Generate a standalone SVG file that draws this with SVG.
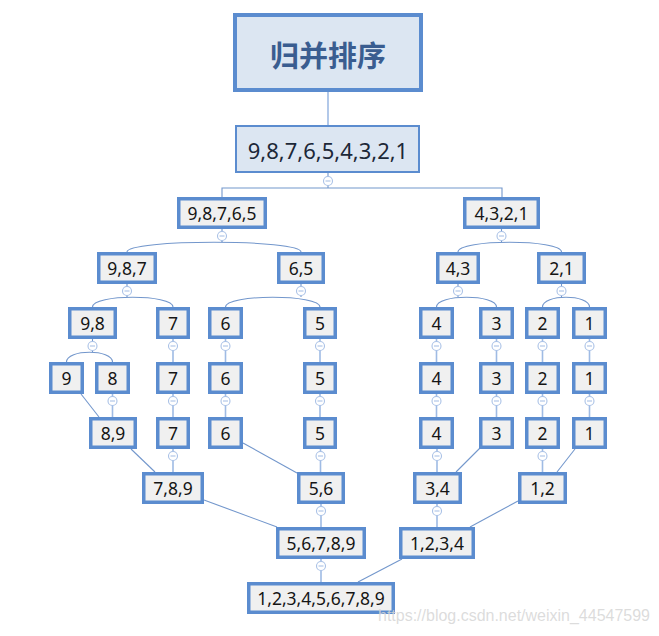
<svg xmlns="http://www.w3.org/2000/svg" width="659" height="636" viewBox="0 0 659 636">
<style>
.n rect{fill:#f0f0f0;stroke:#5b8ccf;stroke-width:3.5}
.n text{font-family:"Noto Sans","Open Sans","DejaVu Sans",sans-serif;font-size:17.5px;fill:#151515;text-anchor:middle;dominant-baseline:central}
.c{fill:none;stroke:#7397cc;stroke-width:1.1}
.v{fill:none;stroke:#9fbbe4;stroke-width:1.6}
.t circle{fill:#fff;stroke:#a9c1e6;stroke-width:1.1}
.t path{stroke:#a9c1e6;stroke-width:1.1}
</style>
<rect width="659" height="636" fill="#fff"/>
<g id="connectors">
<line class="v" x1="328" y1="92" x2="328" y2="125"/>
<path class="c" d="M328,173V188M222,197V188H502V197"/>
<path class="c" d="M222,229V243M127,252C127,239 301,239 301,252"/>
<path class="c" d="M501.5,228V243M458,252C458,239 561.5,239 561.5,252"/>
<path class="c" d="M127,284V297M92.5,307C92.5,294 173,294 173,307"/>
<path class="c" d="M301,284V297M225.5,307C225.5,294 320,294 320,307"/>
<path class="c" d="M458,284V297M436.5,307C436.5,294 496.5,294 496.5,307"/>
<path class="c" d="M561.5,284V297M542.5,307C542.5,294 589.5,294 589.5,307"/>
<path class="c" d="M92.5,339V352M66.5,362C66.5,349 112.5,349 112.5,362"/>
<path class="v" d="M173,339V362M225.5,339V362M320,339V362M436.5,339V362M496.5,339V362M542.5,339V362M589.5,339V362"/>
<path class="v" d="M112.5,394V417M173,394V417M225.5,394V417M320,394V417M436.5,394V417M496.5,394V417M542.5,394V417M589.5,394V417"/>
<line class="c" x1="81" y1="394" x2="99" y2="417"/>
<path class="v" d="M173,449V472M320.5,449V472M437,449V472M542.5,449V472"/>
<line class="c" x1="131" y1="449" x2="155" y2="472"/>
<line class="c" x1="243" y1="443" x2="297" y2="473"/>
<line class="c" x1="480" y1="448" x2="456" y2="472"/>
<line class="c" x1="575" y1="449" x2="557" y2="472"/>
<path class="v" d="M321,504V527M437,504V527M321,559V582"/>
<line class="c" x1="204" y1="500" x2="277" y2="527"/>
<line class="c" x1="518" y1="501" x2="470" y2="527"/>
<line class="c" x1="402" y1="559" x2="358" y2="582"/>
</g>
<g id="toggles" class="t">
<circle cx="328" cy="181" r="4.5"/><path d="M325.5,181H330.5"/>
<circle cx="222" cy="236" r="4.5"/><path d="M219.5,236H224.5"/>
<circle cx="501.5" cy="236" r="4.5"/><path d="M499,236H504"/>
<circle cx="127" cy="291" r="4.5"/><path d="M124.5,291H129.5"/>
<circle cx="301" cy="291" r="4.5"/><path d="M298.5,291H303.5"/>
<circle cx="458" cy="291" r="4.5"/><path d="M455.5,291H460.5"/>
<circle cx="561.5" cy="291" r="4.5"/><path d="M559,291H564"/>
<circle cx="92.5" cy="346" r="4.5"/><path d="M90,346H95"/>
<circle cx="173" cy="346" r="4.5"/><path d="M170.5,346H175.5"/>
<circle cx="225.5" cy="346" r="4.5"/><path d="M223,346H228"/>
<circle cx="320" cy="346" r="4.5"/><path d="M317.5,346H322.5"/>
<circle cx="436.5" cy="346" r="4.5"/><path d="M434,346H439"/>
<circle cx="496.5" cy="346" r="4.5"/><path d="M494,346H499"/>
<circle cx="542.5" cy="346" r="4.5"/><path d="M540,346H545"/>
<circle cx="589.5" cy="346" r="4.5"/><path d="M587,346H592"/>
<circle cx="112.5" cy="401" r="4.5"/><path d="M110,401H115"/>
<circle cx="173" cy="401" r="4.5"/><path d="M170.5,401H175.5"/>
<circle cx="225.5" cy="401" r="4.5"/><path d="M223,401H228"/>
<circle cx="320" cy="401" r="4.5"/><path d="M317.5,401H322.5"/>
<circle cx="436.5" cy="401" r="4.5"/><path d="M434,401H439"/>
<circle cx="496.5" cy="401" r="4.5"/><path d="M494,401H499"/>
<circle cx="542.5" cy="401" r="4.5"/><path d="M540,401H545"/>
<circle cx="589.5" cy="401" r="4.5"/><path d="M587,401H592"/>
<circle cx="173" cy="456" r="4.5"/><path d="M170.5,456H175.5"/>
<circle cx="320.5" cy="456" r="4.5"/><path d="M318,456H323"/>
<circle cx="437" cy="456" r="4.5"/><path d="M434.5,456H439.5"/>
<circle cx="542.5" cy="456" r="4.5"/><path d="M540,456H545"/>
<circle cx="321" cy="511" r="4.5"/><path d="M318.5,511H323.5"/>
<circle cx="437" cy="511" r="4.5"/><path d="M434.5,511H439.5"/>
<circle cx="321" cy="566" r="4.5"/><path d="M318.5,566H323.5"/>
</g>
<g id="n_title">
<rect x="235" y="15" width="186" height="75" fill="#dce6f2" stroke="#5b8ccf" stroke-width="4"/>
<text x="328" y="54" font-family="'Noto Sans CJK SC','Noto Sans',sans-serif" font-size="29" font-weight="bold" fill="#3a5d90" text-anchor="middle" dominant-baseline="central">归并排序</text>
</g>
<g id="n_root">
<rect x="236" y="126" width="183" height="46" fill="#dce6f2" stroke="#5b8ccf" stroke-width="2"/>
<text x="328" y="150" font-family="'Noto Sans','Open Sans',sans-serif" font-size="22" fill="#1c2838" text-anchor="middle" dominant-baseline="central">9,8,7,6,5,4,3,2,1</text>
</g>
<g id="n_98765" class="n"><rect x="178.75" y="198.75" width="86.5" height="28.5"/><text x="222" y="213">9,8,7,6,5</text></g>
<g id="n_4321" class="n"><rect x="464.75" y="198.75" width="73.5" height="28.5"/><text x="501.5" y="213">4,3,2,1</text></g>
<g id="n_987" class="n"><rect x="98.75" y="253.75" width="56.5" height="28.5"/><text x="127" y="268">9,8,7</text></g>
<g id="n_65" class="n"><rect x="278.75" y="253.75" width="44.5" height="28.5"/><text x="301" y="268">6,5</text></g>
<g id="n_43" class="n"><rect x="437.75" y="253.75" width="40.5" height="28.5"/><text x="458" y="268">4,3</text></g>
<g id="n_21" class="n"><rect x="538.75" y="253.75" width="45.5" height="28.5"/><text x="561.5" y="268">2,1</text></g>
<g id="n_98" class="n"><rect x="69.75" y="308.75" width="45.5" height="28.5"/><text x="92.5" y="323">9,8</text></g>
<g id="n_7a" class="n"><rect x="157.75" y="308.75" width="30.5" height="28.5"/><text x="173" y="323">7</text></g>
<g id="n_6a" class="n"><rect x="209.75" y="308.75" width="31.5" height="28.5"/><text x="225.5" y="323">6</text></g>
<g id="n_5a" class="n"><rect x="304.75" y="308.75" width="30.5" height="28.5"/><text x="320" y="323">5</text></g>
<g id="n_4a" class="n"><rect x="420.75" y="308.75" width="31.5" height="28.5"/><text x="436.5" y="323">4</text></g>
<g id="n_3a" class="n"><rect x="480.75" y="308.75" width="31.5" height="28.5"/><text x="496.5" y="323">3</text></g>
<g id="n_2a" class="n"><rect x="526.75" y="308.75" width="31.5" height="28.5"/><text x="542.5" y="323">2</text></g>
<g id="n_1a" class="n"><rect x="573.75" y="308.75" width="31.5" height="28.5"/><text x="589.5" y="323">1</text></g>
<g id="n_9" class="n"><rect x="50.75" y="363.75" width="31.5" height="28.5"/><text x="66.5" y="378">9</text></g>
<g id="n_8" class="n"><rect x="96.75" y="363.75" width="31.5" height="28.5"/><text x="112.5" y="378">8</text></g>
<g id="n_7b" class="n"><rect x="157.75" y="363.75" width="30.5" height="28.5"/><text x="173" y="378">7</text></g>
<g id="n_6b" class="n"><rect x="209.75" y="363.75" width="31.5" height="28.5"/><text x="225.5" y="378">6</text></g>
<g id="n_5b" class="n"><rect x="304.75" y="363.75" width="30.5" height="28.5"/><text x="320" y="378">5</text></g>
<g id="n_4b" class="n"><rect x="420.75" y="363.75" width="31.5" height="28.5"/><text x="436.5" y="378">4</text></g>
<g id="n_3b" class="n"><rect x="480.75" y="363.75" width="31.5" height="28.5"/><text x="496.5" y="378">3</text></g>
<g id="n_2b" class="n"><rect x="526.75" y="363.75" width="31.5" height="28.5"/><text x="542.5" y="378">2</text></g>
<g id="n_1b" class="n"><rect x="573.75" y="363.75" width="31.5" height="28.5"/><text x="589.5" y="378">1</text></g>
<g id="n_89" class="n"><rect x="90.75" y="418.75" width="44.5" height="28.5"/><text x="113" y="433">8,9</text></g>
<g id="n_7c" class="n"><rect x="157.75" y="418.75" width="30.5" height="28.5"/><text x="173" y="433">7</text></g>
<g id="n_6c" class="n"><rect x="209.75" y="418.75" width="31.5" height="28.5"/><text x="225.5" y="433">6</text></g>
<g id="n_5c" class="n"><rect x="304.75" y="418.75" width="30.5" height="28.5"/><text x="320" y="433">5</text></g>
<g id="n_4c" class="n"><rect x="420.75" y="418.75" width="31.5" height="28.5"/><text x="436.5" y="433">4</text></g>
<g id="n_3c" class="n"><rect x="480.75" y="418.75" width="31.5" height="28.5"/><text x="496.5" y="433">3</text></g>
<g id="n_2c" class="n"><rect x="526.75" y="418.75" width="31.5" height="28.5"/><text x="542.5" y="433">2</text></g>
<g id="n_1c" class="n"><rect x="573.75" y="418.75" width="31.5" height="28.5"/><text x="589.5" y="433">1</text></g>
<g id="n_789" class="n"><rect x="143.75" y="473.75" width="58.5" height="28.5"/><text x="173" y="488">7,8,9</text></g>
<g id="n_56" class="n"><rect x="298.75" y="473.75" width="44.5" height="28.5"/><text x="321" y="488">5,6</text></g>
<g id="n_34" class="n"><rect x="414.75" y="473.75" width="45.5" height="28.5"/><text x="437.5" y="488">3,4</text></g>
<g id="n_12" class="n"><rect x="519.75" y="473.75" width="45.5" height="28.5"/><text x="542.5" y="488">1,2</text></g>
<g id="n_56789" class="n"><rect x="277.75" y="528.75" width="86.5" height="28.5"/><text x="321" y="543">5,6,7,8,9</text></g>
<g id="n_1234" class="n"><rect x="400.75" y="528.75" width="72.5" height="28.5"/><text x="437" y="543">1,2,3,4</text></g>
<g id="n_all" class="n"><rect x="248.75" y="583.75" width="144.5" height="28.5"/><text x="321" y="598">1,2,3,4,5,6,7,8,9</text></g>
<text x="378" y="621" font-family="'Liberation Sans',Arial,sans-serif" font-size="16" fill="#d6d6d6" fill-opacity="0.85" textLength="272" lengthAdjust="spacingAndGlyphs">https://blog.csdn.net/weixin_44547599</text>
</svg>
